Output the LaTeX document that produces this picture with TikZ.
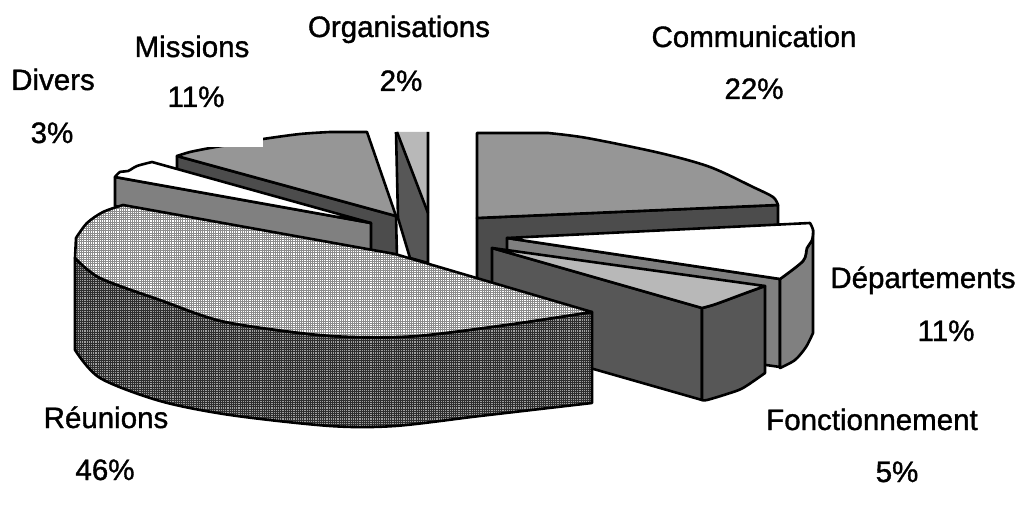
\documentclass[tikz,border=0pt]{standalone}
\usepackage{fontspec}
\setmainfont{Liberation Sans}[FakeBold=1.2]
\usetikzlibrary{patterns}
\pgfdeclarepatternformonly{finegrid}{\pgfqpoint{-0.5pt}{-0.5pt}}{\pgfqpoint{2.7pt}{2.7pt}}{\pgfqpoint{2.2pt}{2.2pt}}{%
  \pgfsetlinewidth{0.6pt}%
  \pgfpathmoveto{\pgfqpoint{0pt}{0pt}}\pgfpathlineto{\pgfqpoint{2.2pt}{0pt}}%
  \pgfpathmoveto{\pgfqpoint{0pt}{0pt}}\pgfpathlineto{\pgfqpoint{0pt}{2.2pt}}%
  \pgfusepath{stroke}}
\tikzset{
  outl/.style={draw=black, line width=2.6pt, line join=round},
  darkface/.style={outl, fill=black!70},
  midface/.style={outl, fill=black!50},
  lightface/.style={outl, fill=black!41},
  whiteface/.style={outl, fill=white},
  dotdark/.style={outl, fill=black!66},
  dotlight/.style={outl, fill=black!28},
  gridlight/.style={outl, preaction={fill=white}, pattern=finegrid, pattern color=black!45},
  griddark/.style={outl, preaction={fill=black!38}, pattern=finegrid, pattern color=black!82},
  lbl/.style={anchor=base, inner sep=0pt, font=\fontsize{29.5}{35}\selectfont},
}
\begin{document}
\begin{tikzpicture}[x=1pt,y=-1pt]
\useasboundingbox (0,0) rectangle (1020,508);

% Organisations
\fill[black!66] (396,132) -- (398,218) -- (410,258) -- (428,263) -- (428,213) -- cycle;
\fill[black!28] (397,132) -- (428,132) -- (428,213) -- cycle;
\draw[outl] (396,132) -- (398,218) -- (410,258) -- (428,263) -- (428,132);
\draw[outl] (397,132) -- (428,213);

% Missions
\draw[darkface] (177,156) -- (396,216) -- (397,258) -- (177,198) -- cycle;
\draw[lightface] (177,156) -- plot[smooth] coordinates {(177,156) (190,152) (210,148) (240,143) (263,139) (300,134) (330,132)} -- (367,132) -- (396,216) -- cycle;
\fill[white] (205,100) rectangle (263,147);

% Divers
\draw[midface] (115,177) -- (371,223) -- (371,256) -- (115,206) -- cycle;
\draw[whiteface] (115,177) -- plot[smooth] coordinates {(115,177) (120,172) (128,171) (137,166) (152,162)} -- (371,223) -- cycle;

% Communication
\draw[darkface] (477,218) -- (778,205) -- (778,295) -- (477,308) -- cycle;
\draw[lightface] (477,133) -- (548,133) -- plot[smooth] coordinates {(548,133) (587,138) (660,153) (710,167) (753,187) (773,197) (778,205)} -- (477,218) -- cycle;

% Departements
\draw[midface] (507,238) -- (780,279) -- (780,367) -- (507,328) -- cycle;
\draw[midface] (780,279) -- plot[smooth] coordinates {(780,279) (803,261) (807,248) (812,240) (813,230)} -- (813,333) -- plot[smooth] coordinates {(813,333) (806,347) (795,360) (780,368)} -- cycle;
\draw[whiteface] (507,238) -- (810,223) -- plot[smooth] coordinates {(810,223) (813,230) (812,240) (807,248) (803,261) (780,279)} -- cycle;

% Fonctionnement
\draw[dotdark] (492,248) -- (702,308) -- (702,400) -- (492,340) -- cycle;
\draw[dotdark] (702,308) -- plot[smooth] coordinates {(702,308) (713,305) (727,300) (743,294) (765,286)} -- (765,373) -- plot[smooth] coordinates {(765,373) (743,388) (727,394) (707,400) (702,400)} -- cycle;
\draw[dotlight] (492,248) -- (702,308) -- plot[smooth] coordinates {(702,308) (713,305) (727,300) (743,294) (765,286)} -- cycle;

% Reunions
\draw[griddark] (75,258) -- (75,350) -- plot[smooth] coordinates {(75,350) (100,378) (160,401) (230,415) (330,426) (395,426) (480,416) (592,403)} -- (592,312) -- plot[smooth] coordinates {(592,312) (506,325) (417,336) (353,337) (300,333) (221,321) (160,300) (100,278) (75,258)} -- cycle;
\draw[gridlight] (123,205) -- (395,254) -- (592,312) -- plot[smooth] coordinates {(592,312) (506,325) (417,336) (353,337) (300,333) (221,321) (160,300) (100,278) (75,258)} -- (76,238) -- plot[smooth] coordinates {(76,238) (87,223) (103,212) (123,205)} -- cycle;

% Labels
\node[lbl] (tcom) at (754,47) {Communication};
\node[lbl] (pcom) at (754,99) {22\%};
\node[lbl] (torg) at (399,37) {Organisations};
\node[lbl] (porg) at (401,91) {2\%};
\node[lbl] (tmis) at (192,57) {Missions};
\node[lbl] (pmis) at (196,107) {11\%};
\node[lbl] (tdep) at (923,288) {Départements};
\node[lbl] (pdep) at (946,341) {11\%};
\node[lbl] (tdiv) at (53,90) {Divers};
\node[lbl] (pdiv) at (52,143) {3\%};
\node[lbl] (tfon) at (872,430) {Fonctionnement};
\node[lbl] (pfon) at (897,482) {5\%};
\node[lbl] (treu) at (106,428) {Réunions};
\node[lbl] (preu) at (105,480) {46\%};
\end{tikzpicture}
\end{document}
